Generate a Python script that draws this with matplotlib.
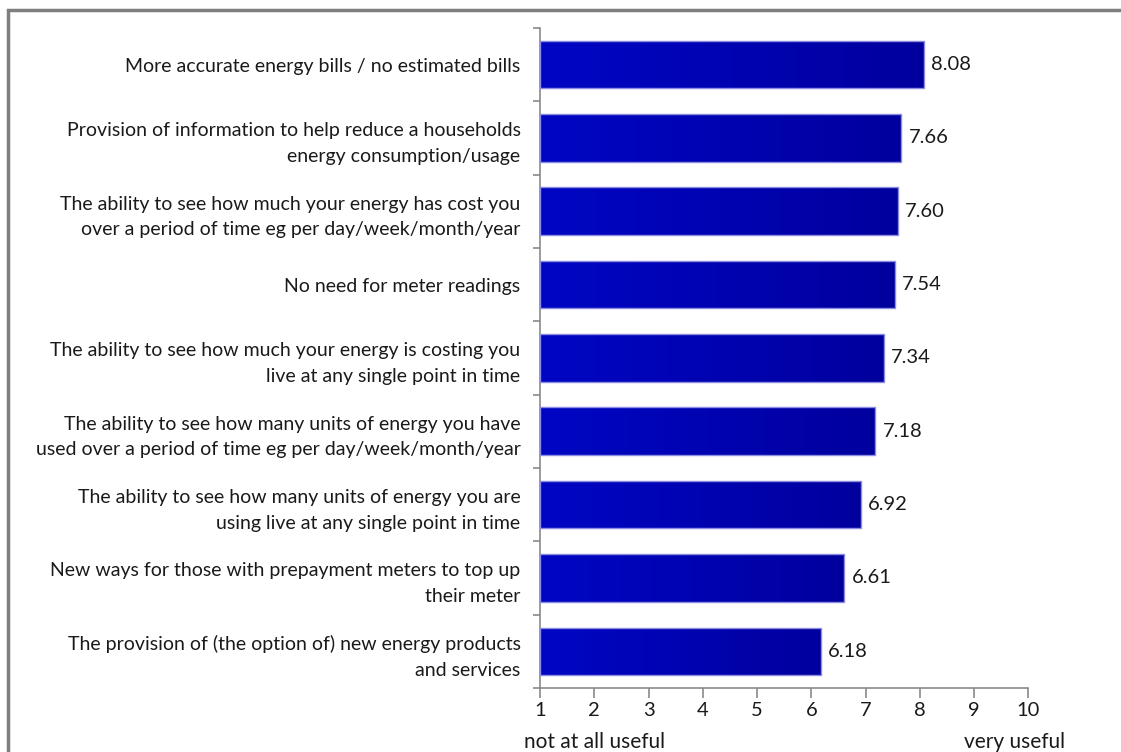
import numpy as np
import matplotlib.pyplot as plt
from matplotlib.colors import LinearSegmentedColormap
from matplotlib.patches import Rectangle

plt.rcParams['font.family'] = ['Lato', 'DejaVu Sans']

# --- Data ---
categories = [
    "More accurate energy bills / no estimated bills",
    "Provision of information to help reduce a households\nenergy consumption/usage",
    "The ability to see how much your energy has cost you\nover a period of time eg per day/week/month/year",
    "No need for meter readings",
    "The ability to see how much your energy is costing you\nlive at any single point in time",
    "The ability to see how many units of energy you have\nused over a period of time eg per day/week/month/year",
    "The ability to see how many units of energy you are\nusing live at any single point in time",
    "New ways for those with prepayment meters to top up\ntheir meter",
    "The provision of (the option of) new energy products\nand services",
]
scores = [8.08, 7.66, 7.60, 7.54, 7.34, 7.18, 6.92, 6.61, 6.18]
x_ticks = list(range(1, 11))
scale_low = "not at all useful"
scale_high = "very useful"

fig = plt.figure(figsize=(11.21, 7.52), dpi=100)
ax = fig.add_axes([0.4817, 0.0851, 0.4357, 0.8777])

n = len(categories)
ypos = np.arange(n)
bar_h = 0.65
xmin, xmax = 1, 10

# bars with a soft left-to-right blue gradient
grad = LinearSegmentedColormap.from_list("bluebar", ["#0006C4", "#00009E"])
ramp = np.linspace(0, 1, 256).reshape(1, -1)
for y, v in zip(ypos, scores):
    bar = ax.barh(y, v - xmin, left=xmin, height=bar_h, color="none",
                  edgecolor="#8C8CE0", linewidth=1.0, zorder=3)[0]
    im = ax.imshow(ramp, cmap=grad, aspect="auto", zorder=2,
                   extent=(xmin, v, y + bar_h / 2, y - bar_h / 2))
    im.set_clip_path(bar)
    ax.text(v + 0.13, y, f"{v:.2f}", va="center", ha="left",
            fontsize=14.5, color="#1a1a1a")
ax.set_xlim(xmin, xmax)
ax.set_ylim(n - 0.5, -0.5)

# axes styling
for s in ["top", "right"]:
    ax.spines[s].set_visible(False)
for s in ["left", "bottom"]:
    ax.spines[s].set_color("#8a8a8a")
    ax.spines[s].set_linewidth(1.2)

ax.set_xticks(x_ticks)
ax.tick_params(axis="x", direction="out", length=7, width=1.2, color="#8a8a8a",
               labelsize=14.5, pad=3, labelcolor="#1a1a1a")

ax.set_yticks(ypos)
ax.set_yticklabels(categories, fontsize=14, color="#1a1a1a", linespacing=1.6)
ax.tick_params(axis="y", which="major", length=0, pad=14)
ax.set_yticks(np.arange(-0.5, n, 1.0), minor=True)
ax.tick_params(axis="y", which="minor", direction="out", length=5, width=1.2,
               color="#8a8a8a")

fig.text(595 / 1121, 1 - 742 / 752, scale_low, ha="center", va="center",
         fontsize=15, color="#1a1a1a")
fig.text(1015 / 1121, 1 - 742 / 752, scale_high, ha="center", va="center",
         fontsize=15, color="#1a1a1a")

# outer frame around the chart area
frame = Rectangle((8 / 1121, -0.05), 1.1, 1 - 10 / 752 + 0.05,
                  transform=fig.transFigure, fill=False,
                  edgecolor="#7f7f7f", linewidth=2.5, clip_on=False)
fig.patches.append(frame)

fig.savefig("out.png", dpi=100)
